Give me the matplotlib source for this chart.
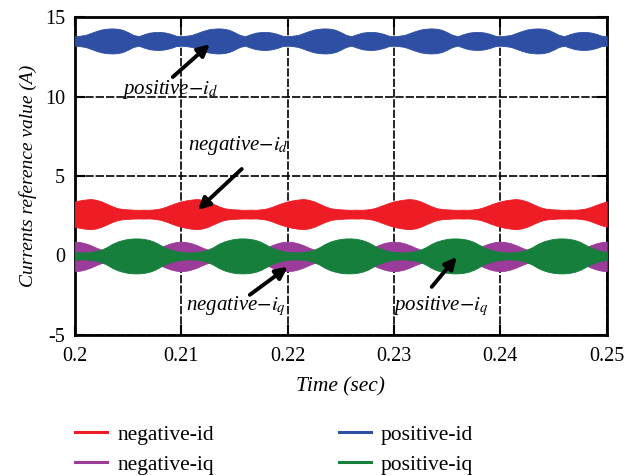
import numpy as np
import matplotlib
matplotlib.use("Agg")
import matplotlib.pyplot as plt

plt.rcParams['font.family'] = ['Liberation Serif', 'DejaVu Serif']
plt.rcParams['mathtext.fontset'] = 'stix'

# Sample instants (s) of the envelope readings, every 0.5 ms
t = np.round(np.arange(0.2, 0.25001, 0.0005), 4)

# Mean level of each current (A)
center_pos_id = 13.5
center_neg_id = 2.6
center_neg_iq = -0.06
center_pos_iq = -0.03

# Half-width of the ripple envelope of each current (A), one row per 10 ms
hw_pos_id = [
    0.30, 0.33, 0.38, 0.50, 0.62, 0.72, 0.77, 0.79, 0.77, 0.70, 0.55, 0.38, 0.30, 0.42, 0.52, 0.56, 0.57, 0.53, 0.45, 0.33,
    0.30, 0.33, 0.38, 0.50, 0.62, 0.72, 0.77, 0.79, 0.77, 0.70, 0.55, 0.38, 0.30, 0.42, 0.52, 0.56, 0.57, 0.53, 0.45, 0.33,
    0.30, 0.33, 0.38, 0.50, 0.62, 0.72, 0.77, 0.79, 0.77, 0.70, 0.55, 0.38, 0.30, 0.42, 0.52, 0.56, 0.57, 0.53, 0.45, 0.33,
    0.30, 0.33, 0.38, 0.50, 0.62, 0.72, 0.77, 0.79, 0.77, 0.70, 0.55, 0.38, 0.30, 0.42, 0.52, 0.56, 0.57, 0.53, 0.45, 0.33,
    0.30, 0.33, 0.38, 0.50, 0.62, 0.72, 0.77, 0.79, 0.77, 0.70, 0.55, 0.38, 0.30, 0.42, 0.52, 0.56, 0.57, 0.53, 0.45, 0.33,
    0.30,
]
hw_neg_id = [
    0.80, 0.87, 0.92, 0.95, 0.90, 0.80, 0.65, 0.50, 0.38, 0.32, 0.30, 0.28, 0.27, 0.28, 0.27, 0.30, 0.35, 0.45, 0.58, 0.70,
    0.80, 0.87, 0.92, 0.95, 0.90, 0.80, 0.65, 0.50, 0.38, 0.32, 0.30, 0.28, 0.27, 0.28, 0.27, 0.30, 0.35, 0.45, 0.58, 0.70,
    0.80, 0.87, 0.92, 0.95, 0.90, 0.80, 0.65, 0.50, 0.38, 0.32, 0.30, 0.28, 0.27, 0.28, 0.27, 0.30, 0.35, 0.45, 0.58, 0.70,
    0.80, 0.87, 0.92, 0.95, 0.90, 0.80, 0.65, 0.50, 0.38, 0.32, 0.30, 0.28, 0.27, 0.28, 0.27, 0.30, 0.35, 0.45, 0.58, 0.70,
    0.80, 0.87, 0.92, 0.95, 0.90, 0.80, 0.65, 0.50, 0.38, 0.32, 0.30, 0.28, 0.27, 0.28, 0.27, 0.30, 0.35, 0.45, 0.58, 0.70,
    0.80,
]
hw_neg_iq = [
    0.93, 0.90, 0.82, 0.70, 0.55, 0.42, 0.35, 0.30, 0.30, 0.30, 0.30, 0.30, 0.30, 0.30, 0.35, 0.42, 0.55, 0.70, 0.82, 0.90,
    0.93, 0.90, 0.82, 0.70, 0.55, 0.42, 0.35, 0.30, 0.30, 0.30, 0.30, 0.30, 0.30, 0.30, 0.35, 0.42, 0.55, 0.70, 0.82, 0.90,
    0.93, 0.90, 0.82, 0.70, 0.55, 0.42, 0.35, 0.30, 0.30, 0.30, 0.30, 0.30, 0.30, 0.30, 0.35, 0.42, 0.55, 0.70, 0.82, 0.90,
    0.93, 0.90, 0.82, 0.70, 0.55, 0.42, 0.35, 0.30, 0.30, 0.30, 0.30, 0.30, 0.30, 0.30, 0.35, 0.42, 0.55, 0.70, 0.82, 0.90,
    0.93, 0.90, 0.82, 0.70, 0.55, 0.42, 0.35, 0.30, 0.30, 0.30, 0.30, 0.30, 0.30, 0.30, 0.35, 0.42, 0.55, 0.70, 0.82, 0.90,
    0.93,
]
hw_pos_iq = [
    0.25, 0.22, 0.22, 0.25, 0.30, 0.40, 0.55, 0.75, 0.90, 1.00, 1.07, 1.10, 1.10, 1.07, 1.00, 0.88, 0.70, 0.52, 0.40, 0.30,
    0.25, 0.22, 0.22, 0.25, 0.30, 0.40, 0.55, 0.75, 0.90, 1.00, 1.07, 1.10, 1.10, 1.07, 1.00, 0.88, 0.70, 0.52, 0.40, 0.30,
    0.25, 0.22, 0.22, 0.25, 0.30, 0.40, 0.55, 0.75, 0.90, 1.00, 1.07, 1.10, 1.10, 1.07, 1.00, 0.88, 0.70, 0.52, 0.40, 0.30,
    0.25, 0.22, 0.22, 0.25, 0.30, 0.40, 0.55, 0.75, 0.90, 1.00, 1.07, 1.10, 1.10, 1.07, 1.00, 0.88, 0.70, 0.52, 0.40, 0.30,
    0.25, 0.22, 0.22, 0.25, 0.30, 0.40, 0.55, 0.75, 0.90, 1.00, 1.07, 1.10, 1.10, 1.07, 1.00, 0.88, 0.70, 0.52, 0.40, 0.30,
    0.25,
]

x_ticks = [0.2, 0.21, 0.22, 0.23, 0.24, 0.25]
x_tick_labels = ["0.2", "0.21", "0.22", "0.23", "0.24", "0.25"]
y_ticks = [-5, 0, 5, 10, 15]
y_tick_labels = ["-5", "0", "5", "10", "15"]

colors = {
    "negative-id": "#ee1c25",
    "positive-id": "#2e4fa3",
    "negative-iq": "#9b3b9a",
    "positive-iq": "#157f3b",
}

fig = plt.figure(figsize=(6.34, 4.75), dpi=100)
ax = fig.add_axes([0.118, 0.295, 0.839, 0.669])

def band(center, hw, color, z):
    hw = np.asarray(hw)
    ax.fill_between(t, center - hw, center + hw, color=color, lw=0.6,
                    edgecolor=color, zorder=z)

band(center_pos_id, hw_pos_id, colors["positive-id"], 3)
band(center_neg_id, hw_neg_id, colors["negative-id"], 3)
band(center_neg_iq, hw_neg_iq, colors["negative-iq"], 3)
band(center_pos_iq, hw_pos_iq, colors["positive-iq"], 4)

ax.set_xlim(0.2, 0.25)
ax.set_ylim(-5, 15)
ax.set_xticks(x_ticks)
ax.set_xticklabels(x_tick_labels)
ax.set_yticks(y_ticks)
ax.set_yticklabels(y_tick_labels)
ax.tick_params(direction='in', length=7, width=1.5, top=True, right=True,
               labelsize=14.5)
ax.tick_params(axis='x', pad=9)
ax.tick_params(axis='y', pad=7)
for s in ax.spines.values():
    s.set_linewidth(2.0)

ax.grid(True, color='black', linestyle=(0, (5, 1.2)), linewidth=1.2, zorder=1)
ax.set_axisbelow(True)

ax.set_xlabel("Time (sec)", fontsize=15.5, style='italic', labelpad=8)
ax.set_ylabel("Currents reference value (A)", fontsize=14, style='italic', labelpad=6)

# Annotations for each current trace
ann_kw = dict(fontsize=15, style='italic', ha='center', va='center', zorder=6)
arrow_kw = dict(arrowstyle='-|>,head_length=0.7,head_width=0.35', color='black',
                lw=2.8, shrinkA=0, shrinkB=0)

ax.text(0.20893, 10.45, "positive$-i_d$", **ann_kw)
ax.annotate("", xy=(0.21269, 13.30), xytext=(0.20921, 11.23), arrowprops=arrow_kw, zorder=6)

ax.text(0.21532, 6.95, "negative$-i_d$", **ann_kw)
ax.annotate("", xy=(0.21156, 2.86), xytext=(0.21569, 5.44), arrowprops=arrow_kw, zorder=6)

ax.text(0.21513, -3.2, "negative$-i_q$", **ann_kw)
ax.annotate("", xy=(0.22002, -0.72), xytext=(0.21645, -2.48), arrowprops=arrow_kw, zorder=6)

ax.text(0.2344, -3.2, "positive$-i_q$", **ann_kw)
ax.annotate("", xy=(0.2359, -0.09), xytext=(0.23355, -1.98), arrowprops=arrow_kw, zorder=6)

# Legend below the axes
order = ["negative-id", "negative-iq", "positive-id", "positive-iq"]
handles = [plt.Line2D([], [], color=colors[k], lw=2.2) for k in order]
fig.legend(handles, order, loc='upper left', bbox_to_anchor=(0.118, 0.106),
           ncol=2, frameon=False, fontsize=15.5, handlelength=1.5,
           handletextpad=0.47, columnspacing=5.8, labelspacing=0.47,
           borderaxespad=0, borderpad=0)

fig.savefig("out.png", dpi=100)
